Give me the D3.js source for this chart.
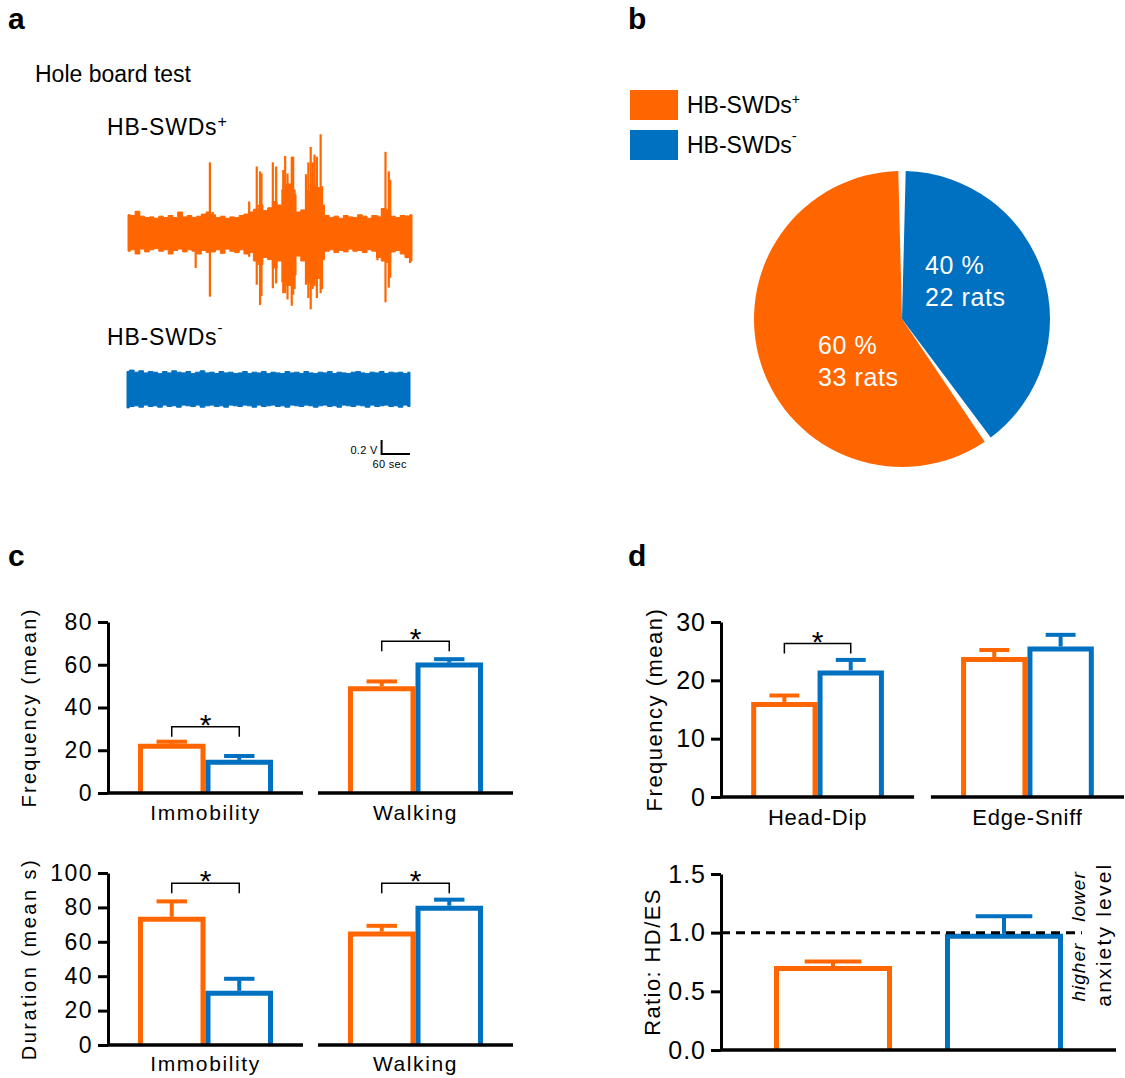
<!DOCTYPE html>
<html>
<head>
<meta charset="utf-8">
<script src="https://cdnjs.cloudflare.com/ajax/libs/d3/7.8.5/d3.min.js"></script>
<style>
  body { margin: 0; background: #fff; }
  svg { display: block; font-family: 'Liberation Sans', Arial, Helvetica, sans-serif; }
</style>
</head>
<body>
<svg width="1125" height="1078"></svg>
<script>
var svg = d3.select('svg');

var ORANGE = '#ff6600';
var BLUE = '#0070c0';

// ---------- data ----------
var groups = ['HB-SWDs+', 'HB-SWDs-'];

// a: EEG trace envelope (volts) read every 10 s over the 600 s test
var traceTimes = d3.range(0, 601, 10);
var posUpper = [0.26,0.25,0.31,0.24,0.22,0.23,0.21,0.24,0.22,0.25,
                0.22,0.30,0.23,0.25,0.22,0.24,0.27,0.30,0.26,0.22,
                0.24,0.21,0.23,0.22,0.25,0.27,0.30,0.34,0.40,0.32,
                0.36,0.45,0.40,0.62,0.70,0.55,0.30,0.33,0.60,0.70,
                0.65,0.40,0.25,0.22,0.24,0.21,0.25,0.23,0.22,0.26,
                0.24,0.21,0.25,0.23,0.35,0.33,0.24,0.22,0.25,0.24,
                0.26];
var posLower = [0.26,0.24,0.30,0.23,0.27,0.24,0.22,0.26,0.24,0.30,
                0.25,0.23,0.27,0.24,0.26,0.30,0.25,0.28,0.27,0.24,
                0.29,0.23,0.26,0.28,0.24,0.30,0.28,0.40,0.45,0.35,
                0.38,0.50,0.40,0.70,0.75,0.60,0.33,0.40,0.70,0.72,
                0.65,0.38,0.26,0.24,0.28,0.25,0.27,0.23,0.26,0.25,
                0.28,0.24,0.26,0.35,0.40,0.42,0.27,0.25,0.30,0.35,
                0.40];
// spikes: [time s, up V, down V]
var posSpikes = [[143,0.20,0.50],[173,1.01,0.91],[179,0.30,0.25],[256,0.45,0.34],
                 [272,0.95,0.74],[279,0.88,1.03],[282,0.85,0.90],[306,1.01,0.79],
                 [313,0.95,0.72],[328,0.90,0.86],[332,1.10,0.86],[337,0.85,0.95],
                 [346,1.09,1.04],[349,1.09,0.88],[352,0.62,0.80],[376,0.84,0.74],
                 [381,1.01,0.93],[386,1.23,1.09],[390,1.01,0.80],[394,1.12,0.76],
                 [399,1.09,0.93],[407,1.41,0.86],[410,0.67,0.80],[527,0.25,0.39],
                 [544,1.16,0.99],[551,0.88,0.78],[554,0.76,0.64],[590,0.25,0.36],
                 [596,0.25,0.43]];
var negUpper = [0.25,0.27,0.24,0.26,0.23,0.25,0.24,0.22,0.25,0.23,
                0.26,0.24,0.23,0.25,0.22,0.24,0.26,0.23,0.24,0.22,
                0.25,0.23,0.24,0.22,0.23,0.25,0.22,0.24,0.23,0.25,
                0.22,0.24,0.23,0.22,0.25,0.23,0.24,0.22,0.25,0.23,
                0.22,0.24,0.23,0.25,0.22,0.24,0.23,0.22,0.24,0.25,
                0.23,0.22,0.24,0.23,0.25,0.22,0.24,0.23,0.24,0.22,
                0.24];
var negLower = [0.27,0.25,0.24,0.26,0.23,0.25,0.24,0.26,0.23,0.25,
                0.24,0.26,0.23,0.24,0.25,0.23,0.26,0.24,0.23,0.25,
                0.24,0.26,0.23,0.24,0.25,0.23,0.24,0.26,0.23,0.25,
                0.24,0.23,0.25,0.24,0.26,0.23,0.24,0.25,0.23,0.24,
                0.26,0.24,0.23,0.25,0.24,0.26,0.23,0.24,0.25,0.23,
                0.24,0.26,0.23,0.25,0.24,0.23,0.25,0.24,0.26,0.23,
                0.25];
var scaleBarSec = 60;
var scaleBarVolt = 0.2;

// b: pie
var pieRats = [22, 33];          // HB-SWDs-, HB-SWDs+
var pieColors = [BLUE, ORANGE];
var piePercent = ['40 %', '60 %'];

// c: behaviour
var behaviours = ['Immobility', 'Walking'];
var freqPosMean = [23, 50];
var freqPosSem = [1.0, 2.2];
var freqNegMean = [15.5, 61];
var freqNegSem = [1.8, 1.6];
var freqSig = [31, 71];
var freqTicks = [0, 20, 40, 60, 80];

var durPosMean = [74.5, 66];
var durPosSem = [9.0, 3.3];
var durNegMean = [31.5, 81];
var durNegSem = [7.0, 3.5];
var durSig = [94, 94];
var durTicks = [0, 20, 40, 60, 80, 100];

// d: exploration
var exploration = ['Head-Dip', 'Edge-Sniff'];
var explPosMean = [16.3, 24.0];
var explPosSem = [1.1, 1.2];
var explNegMean = [21.7, 25.8];
var explNegSem = [1.8, 2.0];
var explSig = [26.3, null];
var explTicks = [0, 10, 20, 30];

var ratioMean = [0.715, 0.99];
var ratioSem = [0.04, 0.15];
var ratioTicks = [0, 0.5, 1.0, 1.5];
var ratioRef = 1.0;

// ---------- helpers ----------
var createText = function (text, x, y, size, opts) {
  opts = opts || {};
  var t = svg.append('text')
    .attr('x', x).attr('y', y)
    .attr('font-size', size)
    .attr('fill', opts.fill || 'black')
    .attr('text-anchor', opts.anchor || 'start')
    .attr('letter-spacing', opts.ls || 0)
    .text(text);
  if (opts.weight) t.attr('font-weight', opts.weight);
  if (opts.style) t.attr('font-style', opts.style);
  if (opts.rotate) {
    t.attr('x', 0).attr('y', 0)
      .attr('transform', 'translate(' + x + ',' + y + ') rotate(' + opts.rotate + ')');
  }
  return t;
};

var createSupText = function (x, y, main, sup, size, supSize, rise, ls) {
  var t = svg.append('text').attr('x', x).attr('y', y)
    .attr('font-size', size).attr('letter-spacing', ls || 0);
  t.append('tspan').text(main);
  t.append('tspan').attr('dy', -rise).attr('font-size', supSize).text(sup);
  return t;
};

var drawTrace = function (upper, lower, spikes, x0, x1, yMid, color) {
  var x = d3.scaleLinear().domain([0, 600]).range([x0, x1]);
  var y = d3.scaleLinear().domain([-1, 1]).range([yMid + 70, yMid - 70]);
  var area = d3.area().curve(d3.curveStep)
    .x(function (d, i) { return x(traceTimes[i]); })
    .y0(function (d, i) { return y(-lower[i]); })
    .y1(function (d) { return y(d); });
  svg.append('path').datum(upper).attr('d', area).attr('fill', color)
    .attr('stroke', color).attr('stroke-width', 1);
  svg.append('g').selectAll('line').data(spikes).enter().append('line')
    .attr('x1', function (d) { return x(d[0]); })
    .attr('x2', function (d) { return x(d[0]); })
    .attr('y1', function (d) { return y(d[1]); })
    .attr('y2', function (d) { return y(-d[2]); })
    .attr('stroke', color).attr('stroke-width', 2.2);
  return {x: x, y: y};
};

var styleAxis = function (g, fontSize, ls) {
  g.select('.domain').attr('stroke-width', 3).attr('stroke', 'black');
  g.selectAll('.tick line').attr('stroke-width', 3).attr('stroke', 'black');
  g.selectAll('.tick text')
    .attr('font-size', fontSize).attr('fill', 'black')
    .attr('font-family', "'Liberation Sans', Arial, sans-serif")
    .attr('letter-spacing', ls);
};

var barPath = function (left, width, top, bottom, sw) {
  var l = left + sw / 2, r = left + width - sw / 2, t = top + sw / 2;
  return 'M' + l + ',' + bottom + 'V' + t + 'H' + r + 'V' + bottom;
};

var drawErrorBar = function (g, cx, yTop, yCap, capW, color) {
  g.append('line').attr('x1', cx).attr('x2', cx).attr('y1', yTop).attr('y2', yCap)
    .attr('stroke', color).attr('stroke-width', 4);
  g.append('line').attr('x1', cx - capW / 2).attr('x2', cx + capW / 2)
    .attr('y1', yCap).attr('y2', yCap)
    .attr('stroke', color).attr('stroke-width', 4);
};

// grouped bars with one broken x-axis segment per category
var drawGroupedPanel = function (cats, posMean, posSem, negMean, negSem, sig, ticks, fmt, box) {
  var y = d3.scaleLinear().domain([0, d3.max(ticks)]).range([box.bottom, box.top]);
  var x0 = d3.scaleBand().domain(cats).range([box.left, box.right]).paddingInner(box.gap);
  var x1 = d3.scaleBand().domain(groups).range([0, x0.bandwidth()])
    .paddingInner(0).paddingOuter(box.outer);
  var g = svg.append('g');
  var sw = 5;

  var bars = [];
  cats.forEach(function (c, i) {
    bars.push({cat: c, grp: groups[0], mean: posMean[i], sem: posSem[i], color: ORANGE});
    bars.push({cat: c, grp: groups[1], mean: negMean[i], sem: negSem[i], color: BLUE});
  });

  g.selectAll('path.bar').data(bars).enter().append('path')
    .attr('class', 'bar')
    .attr('d', function (d) {
      return barPath(x0(d.cat) + x1(d.grp), x1.bandwidth(), y(d.mean), y(0), sw);
    })
    .attr('fill', 'white').attr('stroke', function (d) { return d.color; })
    .attr('stroke-width', sw).attr('stroke-linejoin', 'miter');

  bars.forEach(function (d) {
    var cx = x0(d.cat) + x1(d.grp) + x1.bandwidth() / 2;
    drawErrorBar(g, cx, y(d.mean), y(d.mean + d.sem), x1.bandwidth() * 0.45, d.color);
  });

  // x axis segments
  g.selectAll('line.seg').data(cats).enter().append('line')
    .attr('class', 'seg')
    .attr('x1', function (d) { return x0(d); })
    .attr('x2', function (d) { return x0(d) + x0.bandwidth(); })
    .attr('y1', y(0)).attr('y2', y(0))
    .attr('stroke', 'black').attr('stroke-width', 3.5);

  // category labels
  cats.forEach(function (c) {
    createText(c, x0(c) + x0.bandwidth() / 2, y(0) + box.catDy, box.catSize,
      {anchor: 'middle', ls: box.catLs});
  });

  // significance brackets
  cats.forEach(function (c, i) {
    if (sig[i] === null) return;
    var xa = x0(c) + x1(groups[0]) + x1.bandwidth() / 2;
    var xb = x0(c) + x1(groups[1]) + x1.bandwidth() / 2;
    var ys = y(sig[i]);
    g.append('path')
      .attr('d', 'M' + xa + ',' + (ys + 10) + 'V' + ys + 'H' + xb + 'V' + (ys + 10))
      .attr('fill', 'none').attr('stroke', 'black').attr('stroke-width', 1.5);
    createText('*', (xa + xb) / 2, ys + 8, 30, {anchor: 'middle'});
  });

  var ax = svg.append('g').attr('transform', 'translate(' + box.left + ',0)')
    .call(d3.axisLeft(y).tickValues(ticks).tickSize(10).tickSizeOuter(0)
      .tickPadding(5).tickFormat(fmt));
  styleAxis(ax, box.tickSize, box.tickLs);

  createText(box.yLabel, box.labelX, (box.top + box.bottom) / 2, box.labelSize,
    {anchor: 'middle', rotate: -90, ls: box.labelLs});
  return y;
};

// ---------- panel letters ----------
createText('a', 8, 29, 30, {weight: 'bold'});
createText('b', 628, 29, 30, {weight: 'bold'});
createText('c', 8, 566, 30, {weight: 'bold'});
createText('d', 628, 566, 30, {weight: 'bold'});

// ---------- panel a ----------
createText('Hole board test', 35, 82, 23);
createSupText(107, 135, 'HB-SWDs', '+', 23, 16, 8, 0.8);
createSupText(107, 345, 'HB-SWDs', '-', 23, 15, 12, 0.8);

var posScale = drawTrace(posUpper, posLower, posSpikes, 128, 412, 233, ORANGE);
drawTrace(negUpper, negLower, [], 127, 410, 389, BLUE);

// scale bar
var sbRight = 410, sbBottom = 454;
var sbLeft = sbRight - (posScale.x(scaleBarSec) - posScale.x(0));
var sbTop = sbBottom - (posScale.y(0) - posScale.y(scaleBarVolt));
svg.append('path')
  .attr('d', 'M' + sbLeft + ',' + sbTop + 'V' + sbBottom + 'H' + sbRight)
  .attr('fill', 'none').attr('stroke', 'black').attr('stroke-width', 2);
createText(scaleBarVolt + ' V', sbLeft - 4, sbBottom, 11, {anchor: 'end', ls: 0.3});
createText(scaleBarSec + ' sec', sbLeft - 9, sbBottom + 14, 11, {ls: 0.3});

// ---------- panel b ----------
var legendY = [90, 130];
groups.forEach(function (gName, i) {
  svg.append('rect').attr('x', 630).attr('y', legendY[i]).attr('width', 48).attr('height', 30)
    .attr('fill', i === 0 ? ORANGE : BLUE);
});
createSupText(687, 113, 'HB-SWDs', '+', 23, 14, 9);
createSupText(687, 153, 'HB-SWDs', '-', 23, 15, 12);

var pieCx = 902, pieCy = 319, pieR = 148;
var pie = d3.pie().sort(null).padAngle(0.05);
var arc = d3.arc().innerRadius(0).outerRadius(pieR);
var pieG = svg.append('g').attr('transform', 'translate(' + pieCx + ',' + pieCy + ')');
var arcs = pie(pieRats);
pieG.selectAll('path').data(arcs).enter().append('path')
  .attr('d', arc)
  .attr('fill', function (d, i) { return pieColors[i]; });

var pieLabelPos = [[23, -45], [-84, 35]];
arcs.forEach(function (d, i) {
  var t = pieG.append('text').attr('fill', 'white').attr('font-size', 25).attr('letter-spacing', 0.6);
  t.append('tspan').attr('x', pieLabelPos[i][0]).attr('y', pieLabelPos[i][1]).text(piePercent[i]);
  t.append('tspan').attr('x', pieLabelPos[i][0]).attr('y', pieLabelPos[i][1] + 32)
    .text(d.data + ' rats');
});

// ---------- panel c ----------
drawGroupedPanel(behaviours, freqPosMean, freqPosSem, freqNegMean, freqNegSem, freqSig,
  freqTicks, d3.format('d'),
  {left: 108, right: 513, top: 622, bottom: 793, gap: 0.0714, outer: 0.444,
   tickSize: 23, tickLs: 1.5, catSize: 21, catLs: 1.6, catDy: 27,
   yLabel: 'Frequency (mean)', labelX: 36, labelSize: 20, labelLs: 2.3});

drawGroupedPanel(behaviours, durPosMean, durPosSem, durNegMean, durNegSem, durSig,
  durTicks, d3.format('d'),
  {left: 108, right: 513, top: 873, bottom: 1045, gap: 0.0714, outer: 0.444,
   tickSize: 23, tickLs: 1.5, catSize: 21, catLs: 1.6, catDy: 26,
   yLabel: 'Duration (mean s)', labelX: 36, labelSize: 20, labelLs: 2.5});

// ---------- panel d ----------
drawGroupedPanel(exploration, explPosMean, explPosSem, explNegMean, explNegSem, explSig,
  explTicks, d3.format('d'),
  {left: 721, right: 1124, top: 622, bottom: 797, gap: 0.08, outer: 0.455,
   tickSize: 25, tickLs: 1, catSize: 22, catLs: 0.8, catDy: 28,
   yLabel: 'Frequency (mean)', labelX: 662, labelSize: 22, labelLs: 1.5});

// ratio HD/ES
var ry = d3.scaleLinear().domain([0, d3.max(ratioTicks)]).range([1050, 874]);
var rx = d3.scaleBand().domain(groups).range([721, 1116]).paddingInner(0.31).paddingOuter(0.31);
var rg = svg.append('g');
rg.selectAll('path.bar').data(groups).enter().append('path')
  .attr('class', 'bar')
  .attr('d', function (d, i) { return barPath(rx(d), rx.bandwidth(), ry(ratioMean[i]), ry(0), 5); })
  .attr('fill', 'white')
  .attr('stroke', function (d, i) { return i === 0 ? ORANGE : BLUE; })
  .attr('stroke-width', 5);
groups.forEach(function (d, i) {
  drawErrorBar(rg, rx(d) + rx.bandwidth() / 2, ry(ratioMean[i]), ry(ratioMean[i] + ratioSem[i]),
    rx.bandwidth() * 0.48, i === 0 ? ORANGE : BLUE);
});
rg.append('line').attr('x1', 721).attr('x2', 1082)
  .attr('y1', ry(ratioRef)).attr('y2', ry(ratioRef))
  .attr('stroke', 'black').attr('stroke-width', 3).attr('stroke-dasharray', '9,6');
rg.append('line').attr('x1', 721).attr('x2', 1116)
  .attr('y1', ry(0)).attr('y2', ry(0))
  .attr('stroke', 'black').attr('stroke-width', 3.5);
var rax = svg.append('g').attr('transform', 'translate(721,0)')
  .call(d3.axisLeft(ry).tickValues(ratioTicks).tickSize(10).tickSizeOuter(0)
    .tickPadding(5).tickFormat(d3.format('.1f')));
styleAxis(rax, 25, 1);
createText('Ratio: HD/ES', 660, (874 + 1050) / 2, 22, {anchor: 'middle', rotate: -90, ls: 1.4});

createText('higher', 1085, ry(ratioRef) + 10, 19, {anchor: 'end', rotate: -90, style: 'italic', ls: 1});
createText('lower', 1085, ry(ratioRef) - 11, 19, {anchor: 'start', rotate: -90, style: 'italic', ls: 1});
createText('anxiety level', 1111, ry(ratioRef) + 2, 21, {anchor: 'middle', rotate: -90, ls: 2.2});
</script>
</body>
</html>
